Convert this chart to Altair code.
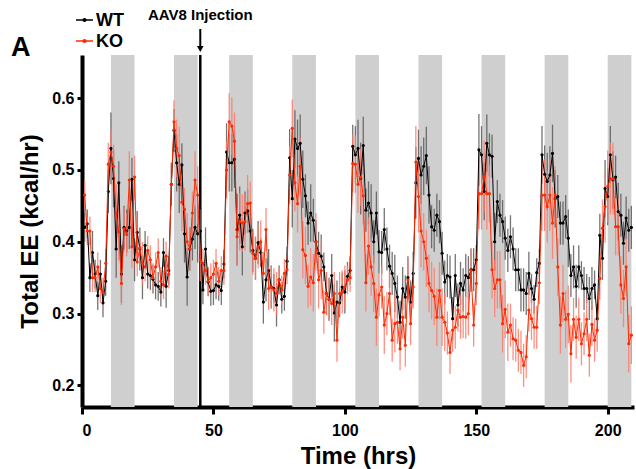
import altair as alt
import pandas as pd

FONT = "Liberation Sans"

# ---- data (hourly means, kcal/hr) ----
FIRST_HOUR = 1
WT = [
    0.42, 0.425, 0.35, 0.385, 0.355, 0.325, 0.355, 0.315, 0.345, 0.47,
    0.53, 0.488, 0.39, 0.482, 0.355, 0.42, 0.415, 0.42, 0.487, 0.375,
    0.413, 0.39, 0.35, 0.395, 0.355, 0.353, 0.348, 0.34, 0.338, 0.33,
    0.385, 0.338, 0.36, 0.48,
    0.555, 0.51, 0.48, 0.507, 0.411, 0.351, 0.39, 0.404, 0.42, 0.411,
    0.415, 0.333, 0.39, 0.344, 0.331, 0.332, 0.34, 0.338, 0.332, 0.369,
    0.525, 0.51, 0.51, 0.515, 0.417, 0.437, 0.393, 0.44, 0.443, 0.415,
    0.388, 0.377, 0.399, 0.385, 0.316, 0.347, 0.36, 0.337, 0.335, 0.312,
    0.347, 0.32, 0.324, 0.373,
    0.517, 0.46, 0.543, 0.53, 0.537, 0.487, 0.464, 0.426, 0.44, 0.43,
    0.40, 0.384, 0.38, 0.365, 0.328, 0.32, 0.353, 0.301, 0.316, 0.315,
    0.337, 0.33, 0.352, 0.36,
    0.533, 0.521, 0.53, 0.488, 0.534, 0.444, 0.454, 0.44, 0.40, 0.44,
    0.386, 0.385, 0.417, 0.39,
    0.366, 0.356, 0.342, 0.323, 0.288, 0.335, 0.323, 0.35, 0.316, 0.356,
    0.482, 0.516, 0.493, 0.505, 0.52, 0.465, 0.421, 0.416, 0.437, 0.428,
    0.384, 0.344, 0.353, 0.351, 0.293, 0.353, 0.312, 0.342, 0.333, 0.353,
    0.35, 0.361, 0.361, 0.375, 0.528, 0.521, 0.47, 0.537, 0.521, 0.519,
    0.40, 0.456, 0.437, 0.428, 0.405, 0.388, 0.407, 0.39, 0.361, 0.361,
    0.333, 0.333, 0.328, 0.356, 0.335, 0.32, 0.357, 0.37,
    0.521, 0.494, 0.484, 0.493, 0.523, 0.46, 0.463, 0.426, 0.426, 0.435,
    0.405, 0.353, 0.365, 0.338, 0.365, 0.353, 0.335, 0.335, 0.321, 0.335,
    0.34, 0.293, 0.409, 0.377, 0.474, 0.463, 0.521, 0.486, 0.49, 0.442,
    0.437, 0.398, 0.433, 0.416, 0.42,
]
KO = [
    0.465, 0.415, 0.415, 0.35, 0.35, 0.365, 0.335, 0.33, 0.37, 0.508,
    0.525, 0.505, 0.44, 0.414, 0.342, 0.418, 0.41, 0.486, 0.393, 0.49,
    0.372, 0.392, 0.37, 0.365, 0.388, 0.375, 0.35, 0.365, 0.385, 0.345,
    0.34, 0.38, 0.355, 0.48,
    0.567, 0.53, 0.52, 0.455, 0.445, 0.40, 0.39, 0.44, 0.486, 0.465,
    0.375, 0.37, 0.36, 0.345, 0.35, 0.355, 0.37, 0.345, 0.36, 0.36,
    0.50, 0.567, 0.561, 0.54, 0.407, 0.428, 0.426, 0.428, 0.453, 0.454,
    0.384, 0.377, 0.393, 0.40, 0.356, 0.417, 0.335, 0.337, 0.333, 0.328,
    0.347, 0.333, 0.356, 0.361,
    0.493, 0.558, 0.482, 0.453, 0.505, 0.389, 0.381, 0.338, 0.351, 0.343,
    0.40, 0.347, 0.36, 0.302, 0.328, 0.32, 0.314, 0.328, 0.263, 0.328,
    0.33, 0.337, 0.347, 0.35,
    0.509, 0.508, 0.48, 0.49, 0.464, 0.343, 0.394, 0.365, 0.342, 0.295,
    0.326, 0.337, 0.284, 0.30,
    0.328, 0.263, 0.286, 0.288, 0.251, 0.295, 0.256, 0.347, 0.286, 0.337,
    0.511, 0.463, 0.415, 0.40, 0.377, 0.342, 0.332, 0.324, 0.295, 0.332,
    0.295, 0.288, 0.273, 0.246, 0.277, 0.281, 0.305, 0.295, 0.296, 0.295,
    0.30, 0.36, 0.284, 0.342, 0.467, 0.467, 0.491, 0.467, 0.467, 0.361,
    0.335, 0.347, 0.347, 0.286, 0.306, 0.274, 0.284, 0.265, 0.263, 0.249,
    0.246, 0.228, 0.24, 0.305, 0.293, 0.281, 0.281, 0.343,
    0.465, 0.465, 0.449, 0.465, 0.426, 0.465, 0.365, 0.284, 0.328, 0.292,
    0.299, 0.244, 0.292, 0.267, 0.292, 0.258, 0.272, 0.292, 0.242, 0.285,
    0.263, 0.277, 0.349, 0.419, 0.449, 0.477, 0.488, 0.488, 0.421, 0.421,
    0.34, 0.321, 0.365, 0.258, 0.27,
]
WT_SEM = [
    0.02, 0.02, 0.02, 0.03, 0.02, 0.02, 0.02, 0.02, 0.02, 0.03,
    0.05, 0.04, 0.04, 0.03, 0.04, 0.03, 0.03, 0.03, 0.03, 0.03,
    0.03, 0.03, 0.03, 0.02, 0.02, 0.02, 0.02, 0.02, 0.02, 0.02,
    0.02, 0.03, 0.02, 0.03,
    0.03, 0.04, 0.04, 0.03, 0.04, 0.04, 0.03, 0.03, 0.03, 0.04,
    0.03, 0.02, 0.03, 0.02, 0.02, 0.02, 0.02, 0.02, 0.02, 0.02,
    0.04, 0.04, 0.04, 0.04, 0.05, 0.04, 0.04, 0.03, 0.03, 0.03,
    0.03, 0.03, 0.03, 0.02, 0.03, 0.03, 0.03, 0.03, 0.02, 0.03,
    0.02, 0.02, 0.02, 0.02,
    0.04, 0.04, 0.04, 0.04, 0.04, 0.04, 0.03, 0.03, 0.04, 0.03,
    0.03, 0.03, 0.03, 0.02, 0.03, 0.03, 0.03, 0.04, 0.03, 0.02,
    0.02, 0.03, 0.02, 0.02,
    0.03, 0.04, 0.04, 0.05, 0.04, 0.03, 0.03, 0.04, 0.03, 0.03,
    0.03, 0.03, 0.03, 0.03,
    0.03, 0.03, 0.04, 0.03, 0.03, 0.03, 0.03, 0.03, 0.03, 0.03,
    0.05, 0.04, 0.04, 0.04, 0.04, 0.04, 0.03, 0.03, 0.03, 0.03,
    0.03, 0.03, 0.03, 0.03, 0.03, 0.03, 0.03, 0.03, 0.03, 0.03,
    0.03, 0.03, 0.03, 0.02, 0.05, 0.04, 0.04, 0.04, 0.03, 0.03,
    0.04, 0.03, 0.03, 0.03, 0.03, 0.03, 0.03, 0.03, 0.03, 0.03,
    0.03, 0.03, 0.03, 0.03, 0.02, 0.02, 0.02, 0.02,
    0.04, 0.04, 0.04, 0.04, 0.04, 0.04, 0.03, 0.03, 0.03, 0.03,
    0.04, 0.03, 0.03, 0.03, 0.03, 0.02, 0.03, 0.02, 0.03, 0.03,
    0.02, 0.02, 0.03, 0.03, 0.04, 0.04, 0.04, 0.04, 0.03, 0.04,
    0.03, 0.03, 0.03, 0.03, 0.03,
]
KO_SEM = [
    0.02, 0.02, 0.02, 0.02, 0.02, 0.02, 0.02, 0.02, 0.02, 0.03,
    0.03, 0.03, 0.04, 0.04, 0.03, 0.03, 0.03, 0.04, 0.03, 0.03,
    0.02, 0.02, 0.03, 0.02, 0.02, 0.02, 0.02, 0.02, 0.02, 0.02,
    0.02, 0.02, 0.02, 0.03,
    0.03, 0.04, 0.04, 0.04, 0.03, 0.04, 0.03, 0.03, 0.04, 0.04,
    0.03, 0.02, 0.02, 0.02, 0.02, 0.02, 0.02, 0.02, 0.02, 0.02,
    0.04, 0.04, 0.04, 0.04, 0.04, 0.04, 0.04, 0.04, 0.04, 0.03,
    0.03, 0.03, 0.03, 0.03, 0.03, 0.03, 0.03, 0.03, 0.03, 0.03,
    0.02, 0.02, 0.02, 0.02,
    0.04, 0.04, 0.04, 0.04, 0.04, 0.04, 0.04, 0.03, 0.04, 0.04,
    0.04, 0.04, 0.04, 0.03, 0.03, 0.03, 0.03, 0.03, 0.03, 0.03,
    0.03, 0.03, 0.02, 0.02,
    0.04, 0.04, 0.04, 0.04, 0.04, 0.04, 0.04, 0.04, 0.04, 0.04,
    0.03, 0.03, 0.04, 0.03,
    0.03, 0.03, 0.04, 0.03, 0.03, 0.03, 0.03, 0.03, 0.03, 0.03,
    0.05, 0.05, 0.05, 0.04, 0.04, 0.04, 0.04, 0.04, 0.04, 0.04,
    0.04, 0.04, 0.03, 0.03, 0.03, 0.03, 0.03, 0.03, 0.03, 0.03,
    0.03, 0.03, 0.03, 0.03, 0.05, 0.05, 0.05, 0.05, 0.04, 0.04,
    0.04, 0.04, 0.04, 0.04, 0.04, 0.04, 0.03, 0.03, 0.03, 0.03,
    0.03, 0.03, 0.03, 0.03, 0.03, 0.03, 0.03, 0.03,
    0.05, 0.05, 0.05, 0.05, 0.05, 0.04, 0.04, 0.04, 0.04, 0.04,
    0.04, 0.04, 0.03, 0.03, 0.03, 0.03, 0.03, 0.03, 0.03, 0.03,
    0.03, 0.03, 0.03, 0.04, 0.05, 0.05, 0.05, 0.05, 0.04, 0.04,
    0.04, 0.04, 0.04, 0.04, 0.04,
]
DARK_START = [11, 35, 56, 80, 104, 128, 152, 176, 200]
DARK_END = [20, 44, 65, 89, 113, 137, 161, 185, 209]
INJECTION_HOUR = 45
GROUPS = ["WT", "KO"]
COLORS = ["#000000", "#ff2a00"]
ERR_COLORS = ["#5a5a5a", "#ff7a6a"]

W, H = 552, 352

rows = []
for name, vals, sems in [("WT", WT, WT_SEM), ("KO", KO, KO_SEM)]:
    for i, (v, s) in enumerate(zip(vals, sems)):
        rows.append({"group": name, "hour": FIRST_HOUR + i, "ee": v,
                     "lo": v - s, "hi": v + s})
df = pd.DataFrame(rows)
bands = pd.DataFrame({"start": DARK_START, "end": DARK_END})

xscale = alt.Scale(domain=[0, 210], nice=False, zero=False)
yscale = alt.Scale(domain=[0.17, 0.66], nice=False, zero=False)

x_axis = alt.Axis(values=[0, 50, 100, 150, 200], title="Time (hrs)",
                  grid=False, tickSize=7, labelPadding=8, titlePadding=6,
                  titleFontSize=24, labelFontSize=16)
y_axis = alt.Axis(values=[0.2, 0.3, 0.4, 0.5, 0.6], format=".1f",
                  title="Total EE (kcal/hr)", grid=False, tickSize=5,
                  labelPadding=3, titlePadding=9, titleFontSize=24,
                  labelFontSize=16)

band_layer = alt.Chart(bands).mark_rect(color="#cfcfcf").encode(
    x=alt.X("start:Q", scale=xscale, axis=x_axis),
    x2="end:Q",
    y=alt.value(0), y2=alt.value(H),
)

def series_layers(name, color, ecolor):
    d = df[df.group == name]
    base = alt.Chart(d)
    err = base.mark_rule(color=ecolor, strokeWidth=1.3, opacity=0.85).encode(
        x=alt.X("hour:Q", scale=xscale),
        y=alt.Y("lo:Q", scale=yscale, axis=y_axis),
        y2="hi:Q",
    )
    line = base.mark_line(color=color, strokeWidth=1).encode(
        x=alt.X("hour:Q", scale=xscale),
        y=alt.Y("ee:Q", scale=yscale),
    )
    pts = base.mark_point(color=color, filled=True, size=10, opacity=1).encode(
        x=alt.X("hour:Q", scale=xscale),
        y=alt.Y("ee:Q", scale=yscale),
    )
    return err, line, pts

wt_err, wt_line, wt_pts = series_layers("WT", COLORS[0], ERR_COLORS[0])
ko_err, ko_line, ko_pts = series_layers("KO", COLORS[1], ERR_COLORS[1])

inj = pd.DataFrame({"hour": [INJECTION_HOUR], "label": ["AAV8 Injection"]})
inj_line = alt.Chart(inj).mark_rule(color="black", strokeWidth=2.5).encode(
    x=alt.X("hour:Q", scale=xscale), y=alt.value(0), y2=alt.value(H))
inj_arrow = alt.Chart(inj).mark_rule(color="black", strokeWidth=2).encode(
    x=alt.X("hour:Q", scale=xscale), y=alt.value(-26), y2=alt.value(-8))
inj_head = alt.Chart(inj).mark_point(shape="triangle-down", filled=True,
                                     color="black", size=45, opacity=1).encode(
    x=alt.X("hour:Q", scale=xscale), y=alt.value(-6))
inj_text = alt.Chart(inj).mark_text(font=FONT, fontWeight="bold", fontSize=15,
                                    align="center", baseline="middle").encode(
    x=alt.X("hour:Q", scale=xscale), y=alt.value(-40), text="label:N")

leg = pd.DataFrame({"group": GROUPS, "ly": [-35, -14]})
cscale = alt.Scale(domain=GROUPS, range=COLORS)
leg_line = alt.Chart(leg).mark_rule(strokeWidth=1.5).encode(
    x=alt.value(-6), x2=alt.value(11), y=alt.Y("ly:Q", scale=None),
    color=alt.Color("group:N", scale=cscale, legend=None))
leg_pt = alt.Chart(leg).mark_point(filled=True, size=18, opacity=1).encode(
    x=alt.value(2.5), y=alt.Y("ly:Q", scale=None),
    color=alt.Color("group:N", scale=cscale, legend=None))
leg_text = alt.Chart(leg).mark_text(font=FONT, fontWeight="bold", fontSize=18,
                                    align="left", baseline="middle", dy=1).encode(
    x=alt.value(14), y=alt.Y("ly:Q", scale=None), text="group:N")

panel = pd.DataFrame({"t": ["A"]})
panel_text = alt.Chart(panel).mark_text(font=FONT, fontWeight="bold", fontSize=27,
                                        align="left", baseline="middle").encode(
    x=alt.value(-71), y=alt.value(-7), text="t:N")

chart = alt.layer(
    band_layer, inj_line,
    wt_err, ko_err, wt_line, wt_pts, ko_line, ko_pts,
    inj_arrow, inj_head, inj_text,
    leg_line, leg_pt, leg_text, panel_text,
).properties(
    width=W, height=H,
    padding={"left": 82, "top": 55, "right": 2, "bottom": 62},
    autosize=alt.AutoSizeParams(type="none"),
).configure_view(
    stroke=None
).configure_axis(
    domainColor="black", domainWidth=4, tickColor="black", tickWidth=3,
    labelFont=FONT, labelFontWeight="bold", labelColor="black",
    titleFont=FONT, titleFontWeight="bold", titleColor="black",
)

chart.save("out.html", embed_options={"renderer": "svg", "actions": False})
